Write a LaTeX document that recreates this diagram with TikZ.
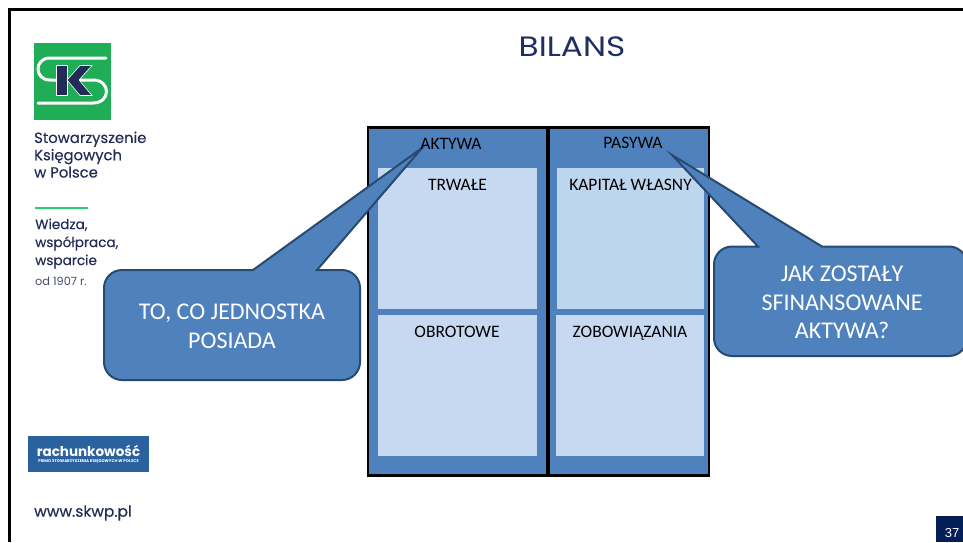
\documentclass[tikz,border=0pt]{standalone}
\usepackage{fontspec}
\setmainfont{Carlito}
\newfontfamily\logofont{Poppins}
\newfontfamily\logomedium[FakeBold=0.3]{Poppins}
\newfontfamily\pagefont{Liberation Sans}
\definecolor{navy}{HTML}{232B57}
\definecolor{titlenavy}{HTML}{1F2F5F}
\definecolor{pagenavy}{HTML}{041E57}
\definecolor{logogreen}{HTML}{1FAD55}
\definecolor{linegreen}{HTML}{2ECC71}
\definecolor{magblue}{HTML}{2A619F}
\definecolor{panelblue}{HTML}{4F81BD}
\definecolor{edgeblue}{HTML}{264A70}
\definecolor{paleblue}{HTML}{C6D9F1}
\definecolor{skyblue}{HTML}{BDD6EE}
\begin{document}
\begin{tikzpicture}[
    x=1pt, y=-1pt,
    panel/.style={draw=black, line width=2.5pt, fill=panelblue},
    inner/.style={fill=paleblue},
    callout/.style={draw=edgeblue, line width=2pt, fill=panelblue},
    heading/.style={font=\fontsize{17.5}{17.5}\selectfont, text=black, anchor=base, inner sep=0pt},
    bubbletext/.style={font=\fontsize{24}{28.7}\selectfont, text=white, align=center},
    logotext/.style={text=navy, align=left, anchor=north west, inner sep=0pt}
]
\useasboundingbox (0,0) rectangle (963,542);
\clip (0,0) rectangle (963,542);

% Slide frame
\draw[black, line width=3pt] (9,542) -- (9,9.5) -- (963,9.5);

% Logo
\fill[logogreen] (33.5,43) rectangle (111,120);
\draw[white, line width=3pt, line cap=round] (106,58) -- (50,58) .. controls (34,58) and (34,80) .. (50,80) -- (93,80) .. controls (111,80) and (111,103) .. (93,103) -- (38,103);
\fill[navy, draw=white, line width=0.6pt] (56,65.5) -- (67,65.5) -- (67,95.5) -- (56,95.5) -- cycle;
\fill[navy, draw=white, line width=0.6pt] (80,65.5) -- (92,65.5) -- (79,80) -- (92,95.5) -- (80,95.5) -- (67,80) -- cycle;

% Left column of texts
\node[logotext, font=\logomedium\fontsize{14.8}{17.3}\selectfont] (society) at (34,131.5) {Stowarzyszenie\\Księgowych\\w Polsce};
\draw[linegreen, line width=1.2pt] (35,208) -- (88,208);
\node[logotext, font=\logomedium\fontsize{13.6}{18}\selectfont] (motto) at (35,218.5) {Wiedza,\\współpraca,\\wsparcie};
\node[logotext, font=\logofont\fontsize{11.3}{12}\selectfont, text=navy!85] (since) at (35,277) {od 1907 r.};

% Magazine badge
\node[fill=magblue, minimum width=121pt, minimum height=36pt, inner sep=0pt, anchor=north west] (badge) at (28,436) {};
\node[text=white, font=\logofont\bfseries\fontsize{13.5}{12}\selectfont, inner sep=0pt] (magazine) at (88.5,451) {rachunkowość};
\node[text=white, font=\logofont\bfseries\fontsize{4}{3}\selectfont, inner sep=0pt] (magsub) at (88.5,461) {PISMO STOWARZYSZENIA KSIĘGOWYCH W POLSCE};
\node[text=navy, font=\logomedium\fontsize{15.4}{15}\selectfont, inner sep=0pt, anchor=west] (web) at (34,513) {www.skwp.pl};

% Title
\node[text=titlenavy, font=\logofont\fontsize{28}{28}\selectfont, xscale=1.17] (title) at (572,47) {BILANS};

% Two columns of the balance sheet
\draw[panel] (368,127.5) rectangle (547.5,475.5);
\draw[panel] (549,127.5) rectangle (709,475.5);
\fill[inner] (378,168) rectangle (537,309);
\fill[inner] (378,315) rectangle (537,456);
\fill[skyblue] (557,168) rectangle (704,309);
\fill[inner] (556,315) rectangle (704,456);

% Callouts
\draw[callout] (422,148) -- (253,270) [rounded corners=18pt] -- (104,270) -- (104,380) -- (360,380) -- (360,270) [sharp corners] -- (317,270) -- cycle;
\draw[callout] (672,155) -- (758,246.5) [rounded corners=18pt] -- (714,246.5) -- (714,356) -- (967,356) -- (967,246.5) [sharp corners] -- (822,246.5) -- cycle;

% Labels
\node[heading] (aktywa) at (451,149) {AKTYWA};
\node[heading] (pasywa) at (633,148.5) {PASYWA};
\node[heading] (trwale) at (457.5,190) {TRWAŁE};
\node[heading] (kapital) at (630.5,190) {KAPITAŁ WŁASNY};
\node[heading] (obrotowe) at (457,337) {OBROTOWE};
\node[heading] (zobow) at (630,337) {ZOBOWIĄZANIA};
\node[bubbletext] (posiada) at (232,326) {TO, CO JEDNOSTKA\\POSIADA};
\node[bubbletext] (finanse) at (842,302.5) {JAK ZOSTAŁY\\SFINANSOWANE\\AKTYWA?};

% Page number
\node[fill=pagenavy, minimum width=27pt, minimum height=26pt, inner sep=0pt, anchor=north west] (pagebox) at (936,516) {};
\node[text=white, font=\pagefont\fontsize{13}{13}\selectfont, inner sep=0pt] (pagenum) at (952,533) {37};

\end{tikzpicture}
\end{document}
